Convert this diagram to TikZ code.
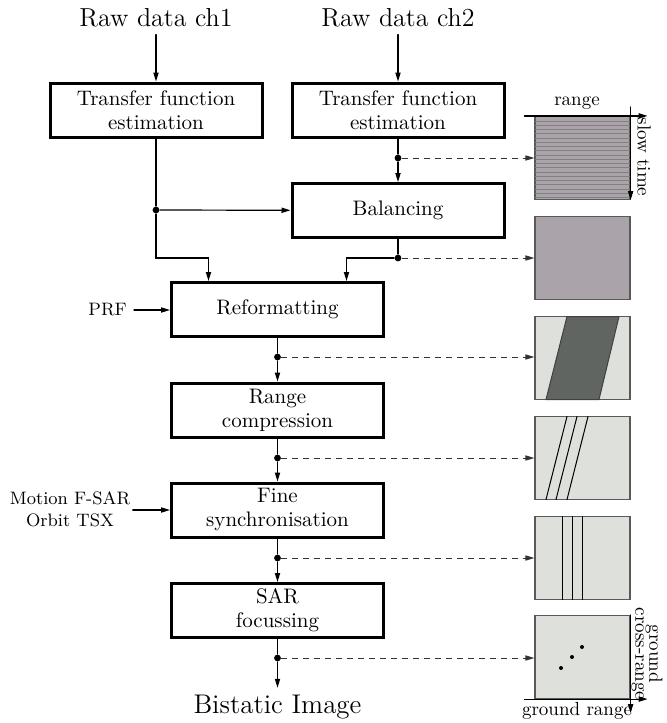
\documentclass[tikz,border=0pt]{standalone}
\usepackage{tikz}
\usetikzlibrary{arrows.meta}
\definecolor{qianhui}{RGB}{221,224,219}
\definecolor{zihui}{RGB}{170,164,170}
\definecolor{shenhui}{RGB}{96,101,97}

\begin{document}
\begin{tikzpicture}[x=0.5pt,y=-0.5pt,semithick,line cap=round,>={Triangle[length=4.5pt,width=2.6pt]}]
	\tikzstyle{kuang}=[draw,line width=1.5pt,minimum width=106pt,minimum height=27pt,align=center,inner sep=2pt,font=\fontsize{10.5}{12}\selectfont];
	\tikzstyle{dian}=[circle,fill,inner sep=1.2pt];
	\tikzstyle{tu}=[draw=black!65,line width=.6pt,minimum width=47.5pt,minimum height=41.5pt,inner sep=0pt];
	\tikzstyle{xuxian}=[black!80,line width=.45pt,dash pattern=on 3pt off 2.5pt,line cap=butt];
	\tikzstyle{zhou}=[font=\fontsize{9.5}{8}\selectfont,inner sep=0pt];
	\useasboundingbox (0,0) rectangle (666,723);
	% inputs and processing chain
	\node[font=\fontsize{13}{15}\selectfont] (raw1) at (156,18) {Raw data ch1};
	\node[font=\fontsize{13}{15}\selectfont] (raw2) at (398,18) {Raw data ch2};
	\node[kuang] (tf1) at (156,110) {Transfer function\\estimation};
	\node[kuang] (tf2) at (398,110) {Transfer function\\estimation};
	\node[kuang] (bal) at (398,210.5) {Balancing};
	\node[kuang] (ref) at (277.5,309.5) {Reformatting};
	\node[kuang] (rc) at (277.5,410) {Range\\compression};
	\node[kuang] (fs) at (277.5,510) {Fine\\synchronisation};
	\node[kuang] (sar) at (277.5,610.5) {SAR\\focussing};
	\node[font=\fontsize{13.5}{16}\selectfont] (out) at (277.5,707) {Bistatic Image};
	\node[font=\small,anchor=east] (prf) at (134,310) {PRF};
	\node[font=\small,align=center,inner sep=1pt] (mot) at (70,509) {Motion F-SAR\\Orbit TSX};
	% junctions
	\node[dian] (d1) at (398,158) {};
	\node[dian] (d2) at (156,210) {};
	\node[dian] (d3) at (398,258) {};
	\foreach \n/\y in {d4/357,d5/458,d6/558,d7/658}
		\node[dian] (\n) at (277.5,\y) {};
	% connectors
	\draw[->] (raw1) -- (tf1);
	\draw[->] (raw2) -- (tf2);
	\draw (tf2) -- (d1);
	\draw[->] (d1) -- (bal);
	\draw (tf1) -- (d2);
	\draw[->] (d2) -- (bal);
	\draw[->] (d2) -- ++(0,48) -| ([xshift=-34.5pt]ref.north);
	\draw (bal) -- (d3);
	\draw[->] (d3) -| ([xshift=34.5pt]ref.north);
	\draw[->] (prf) -- (prf -| ref.west);
	\draw[->] (mot.east |- fs) -- (fs.west);
	\foreach \a/\d/\b in {ref/d4/rc,rc/d5/fs,fs/d6/sar,sar/d7/out}{
		\draw (\a) -- (\d);
		\draw[->] (\d) -- (\b);
	}
	% data pictures
	\node[tu,fill=zihui] (p1) at (582.5,158) {};
	\node[tu,fill=zihui] (p2) at (582.5,258) {};
	\node[tu,fill=qianhui] (p3) at (582.5,358) {};
	\node[tu,fill=qianhui] (p4) at (582.5,458) {};
	\node[tu,fill=qianhui] (p5) at (582.5,558) {};
	\node[tu,fill=qianhui] (p6) at (582.5,657) {};
	\foreach \i in {0,...,19}
		\draw[black!50,line width=.5pt] (535.5,116.8+\i*4.26) -- (629.5,116.8+\i*4.26);
	\fill[shenhui,draw=black!75,line width=.5pt] (567,316.5) -- (619,316.5) -- (599,399.5) -- (546,399.5) -- cycle;
	\foreach \t/\b in {567/546,577/556,588/567}
		\draw[line width=.5pt] (\t,416.5) -- (\b,499.5);
	\foreach \x in {562,572,582}
		\draw[line width=.5pt] (\x,516.5) -- (\x,599.5);
	\foreach \x/\y in {561/668,572/657,582/647}
		\fill (\x,\y) circle (1pt);
	\foreach \d/\p in {d1/p1,d3/p2,d4/p3,d5/p4,d6/p5,d7/p6}
		\draw[xuxian,->] (\d) -- (\d -| \p.west);
	% axes
	\draw[->] ([xshift=-5pt]p1.north west) -- ([xshift=8.5pt]p1.north east);
	\draw[->] ([yshift=4.5pt]p1.north east) -- (p1.south east);
	\node[zhou] (rg) at (577,103) {range};
	\node[zhou,rotate=-90] (st) at (644,157) {slow time};
	\draw[->] ([xshift=-5pt]p6.south west) -- ([xshift=8.5pt]p6.south east);
	\draw[->] (p6.north east) -- ([yshift=-7pt]p6.south east);
	\node[zhou] (gr) at (577,711) {ground range};
	\node[zhou,rotate=-90,align=center] (cr) at (647,654) {ground\\[-1pt]cross-range};
\end{tikzpicture}
\end{document}
